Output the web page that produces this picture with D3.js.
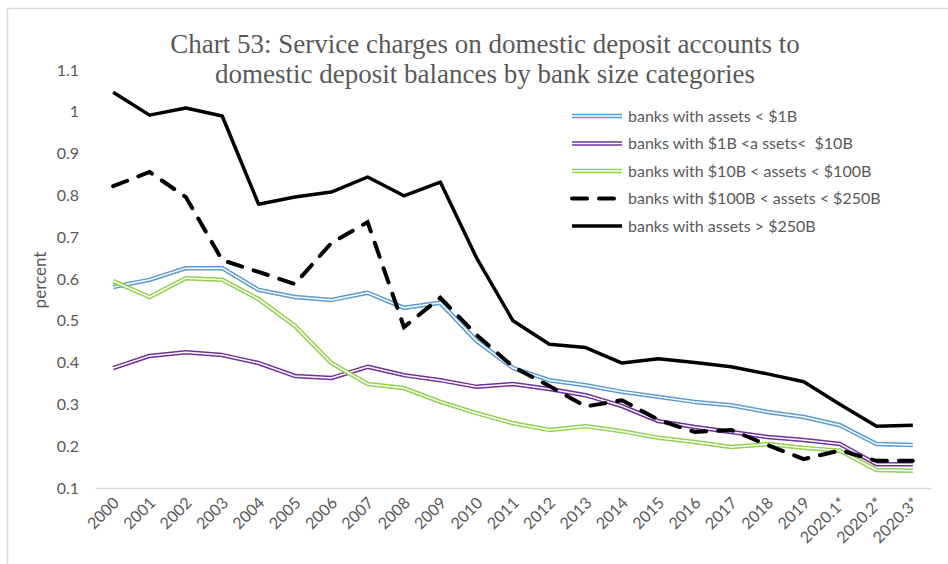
<!DOCTYPE html>
<html lang="en">
    <head>
        <meta charset="utf-8">
        <title>Chart 53</title>
        <script src="https://d3js.org/d3.v7.min.js"></script>
        <style type="text/css">
            body { margin: 0; background: #fff; }
            .tick text { font-family: Lato, "Open Sans", sans-serif; font-size: 16px; fill: #595959; }
        </style>
    </head>
    <body>
        <script type="text/javascript">

            const w = 948;
            const h = 564;

            // data
            const years = ["2000","2001","2002","2003","2004","2005","2006","2007","2008","2009","2010",
                           "2011","2012","2013","2014","2015","2016","2017","2018","2019","2020.1*","2020.2*","2020.3*"];
            const yTicks = [0.1, 0.2, 0.3, 0.4, 0.5, 0.6, 0.7, 0.8, 0.9, 1, 1.1];

            const under1B = [0.581,0.598,0.626,0.626,0.574,0.557,0.550,0.567,0.531,0.543,0.452,
                             0.387,0.358,0.346,0.330,0.318,0.306,0.298,0.282,0.270,0.250,0.205,0.203];
            const b1to10B = [0.387,0.416,0.425,0.418,0.399,0.368,0.363,0.390,0.370,0.358,0.342,
                             0.349,0.337,0.322,0.296,0.260,0.246,0.234,0.222,0.215,0.205,0.157,0.157];
            const b10to100B = [0.595,0.557,0.602,0.598,0.552,0.488,0.399,0.349,0.339,0.306,0.279,
                               0.255,0.239,0.248,0.236,0.220,0.210,0.198,0.205,0.196,0.189,0.143,0.141];
            const b100to250B = [0.822,0.856,0.796,0.645,0.617,0.588,0.686,0.736,0.485,0.555,0.466,
                                0.390,0.344,0.295,0.310,0.263,0.234,0.239,0.203,0.169,0.190,0.165,0.165];
            const over250B = [1.047,0.992,1.009,0.990,0.779,0.796,0.808,0.844,0.799,0.832,0.650,
                              0.500,0.444,0.436,0.399,0.409,0.400,0.390,0.373,0.354,0.300,0.248,0.250];

            const seriesNames = ["banks with assets < $1B",
                                 "banks with $1B <a ssets<  $10B",
                                 "banks with $10B < assets < $100B",
                                 "banks with $100B < assets < $250B",
                                 "banks with assets > $250B"];

            const series = [
                {name: seriesNames[0], values: under1B, color: "#5B9BD5", type: "double"},
                {name: seriesNames[1], values: b1to10B, color: "#7030A0", type: "double"},
                {name: seriesNames[2], values: b10to100B, color: "#92D050", type: "double"},
                {name: seriesNames[3], values: b100to250B, color: "#000000", type: "dash"},
                {name: seriesNames[4], values: over250B, color: "#000000", type: "solid"}
            ];

            const xScale = d3.scaleBand()
                             .domain(years)
                             .range([95, 931]);

            const yScale = d3.scaleLinear()
                             .domain([0.1, 1.1])
                             .range([488, 70]);

            const svg = d3.select("body")
                          .append("svg")
                          .attr("width", w)
                          .attr("height", h);

            // outer frame
            svg.append("path")
               .attr("d", "M7.5," + h + " V8.5 H" + w)
               .attr("fill", "none")
               .attr("stroke", "#d9d9d9")
               .attr("stroke-width", 1.5);

            // title
            const title = svg.append("text")
                             .attr("text-anchor", "middle")
                             .style("font-family", "'Liberation Serif', 'Times New Roman', serif")
                             .style("font-size", "27px")
                             .style("fill", "#595959");
            title.append("tspan").attr("x", 485).attr("y", 53)
                 .text("Chart 53: Service charges on domestic deposit accounts to");
            title.append("tspan").attr("x", 485).attr("y", 83)
                 .text("domestic deposit balances by bank size categories");

            // y axis (labels only)
            const leftAxis = d3.axisLeft(yScale)
                               .tickValues(yTicks)
                               .tickFormat(d => d3.format("")(+d.toFixed(1)))
                               .tickSize(0)
                               .tickPadding(0);
            const gy = svg.append("g")
                          .attr("class", "axis")
                          .attr("transform", "translate(79,0)")
                          .call(leftAxis);
            gy.select(".domain").remove();

            // x axis
            const bottomAxis = d3.axisBottom(xScale).tickSize(0);
            const gx = svg.append("g")
                          .attr("class", "axis")
                          .attr("transform", "translate(0,488)")
                          .call(bottomAxis);
            gx.select(".domain").attr("stroke", "#d9d9d9").attr("stroke-width", 1.5);
            gx.selectAll(".tick text")
              .attr("text-anchor", "end")
              .attr("dy", null)
              .attr("y", 0)
              .attr("transform", "translate(7,16) rotate(-45)");

            // y axis title
            svg.append("text")
               .attr("transform", "translate(46,280) rotate(-90)")
               .attr("text-anchor", "middle")
               .style("font-family", "Lato, 'Open Sans', sans-serif")
               .style("font-size", "17px")
               .style("fill", "#595959")
               .text("percent");

            const line = d3.line()
                           .x((d, i) => xScale(years[i]) + xScale.bandwidth() / 2)
                           .y(d => yScale(d));

            function drawStyled(g, sel, s) {
                if (s.type === "double") {
                    g.append("path").attr("d", sel).attr("fill", "none")
                     .attr("stroke", s.color).attr("stroke-width", 4.5)
                     .attr("stroke-linejoin", "round");
                    g.append("path").attr("d", sel).attr("fill", "none")
                     .attr("stroke", "#ffffff").attr("stroke-width", 1.5)
                     .attr("stroke-linejoin", "round");
                } else if (s.type === "dash") {
                    g.append("path").attr("d", sel).attr("fill", "none")
                     .attr("stroke", s.color).attr("stroke-width", 4)
                     .attr("stroke-dasharray", "15,12")
                     .attr("stroke-linecap", "round");
                } else {
                    g.append("path").attr("d", sel).attr("fill", "none")
                     .attr("stroke", s.color).attr("stroke-width", 3.5)
                     .attr("stroke-linejoin", "round");
                }
            }

            series.forEach(s => {
                const g = svg.append("g").attr("class", "series");
                drawStyled(g, line(s.values), s);
            });

            // legend
            const legend = svg.selectAll(".legend")
                              .data(series)
                              .enter().append("g")
                              .attr("class", "legend")
                              .attr("transform", (d, i) => `translate(570,${116 + i * 27.5})`);

            legend.each(function(s) {
                drawStyled(d3.select(this), "M2,0 H52", s);
            });

            legend.append("text")
                  .attr("x", 58)
                  .attr("y", 0)
                  .attr("dy", ".35em")
                  .style("font-family", "Lato, 'Open Sans', sans-serif")
                  .style("font-size", "16px")
                  .style("white-space", "pre")
                  .style("fill", "#595959")
                  .text(d => d.name);

        </script>
    </body>
</html>
